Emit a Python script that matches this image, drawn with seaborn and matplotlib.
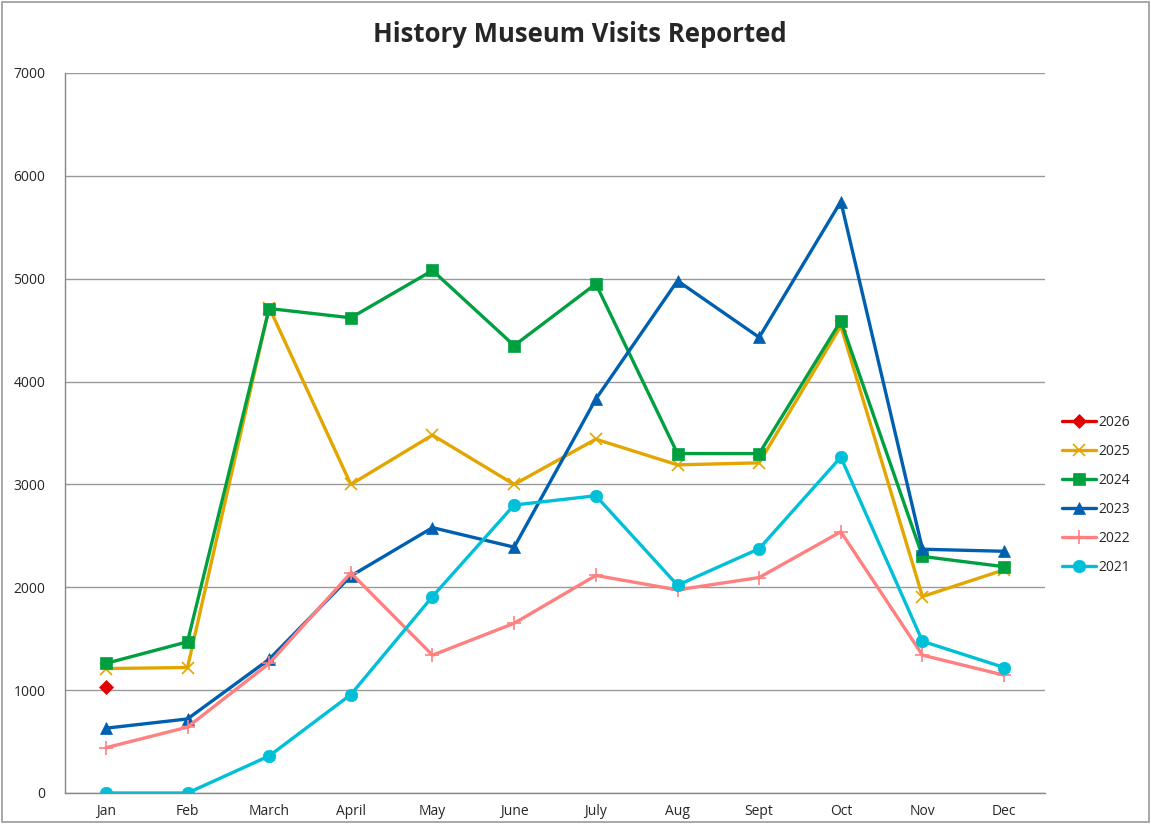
import pandas as pd
import matplotlib
matplotlib.use("Agg")
import matplotlib.pyplot as plt
import seaborn as sns
from matplotlib.patches import Rectangle

# Dane
months = ["Jan", "Feb", "March", "April", "May", "June", "July", "Aug", "Sept", "Oct", "Nov", "Dec"]
v2026 = [1030]
v2025 = [1210, 1220, 4720, 3000, 3480, 3000, 3440, 3190, 3210, 4540, 1910, 2170]
v2024 = [1260, 1470, 4710, 4620, 5080, 4350, 4950, 3300, 3300, 4590, 2300, 2200]
v2023 = [630, 720, 1300, 2110, 2580, 2390, 3830, 4980, 4430, 5750, 2370, 2350]
v2022 = [440, 640, 1260, 2140, 1340, 1650, 2115, 1975, 2095, 2540, 1340, 1145]
v2021 = [0, 0, 360, 957, 1910, 2800, 2890, 2020, 2375, 3265, 1475, 1220]

series = [
    ("2026", v2026, "#E00000", "D", 7),
    ("2025", v2025, "#E3A600", "x", 9),
    ("2024", v2024, "#00A040", "s", 9),
    ("2023", v2023, "#0060B0", "^", 9),
    ("2022", v2022, "#FF8080", "+", 10),
    ("2021", v2021, "#00C0D8", "o", 9),
]

sns.set_style("white")
plt.rcParams['font.family'] = ['Open Sans', 'DejaVu Sans']

fig = plt.figure(figsize=(11.51, 8.24), dpi=100)
ax = fig.add_axes([65 / 1151, 31 / 824, 980 / 1151, 720 / 824])

for name, vals, color, marker, ms in series:
    df = pd.DataFrame({"m": range(len(vals)), "v": vals})
    sns.lineplot(data=df, x="m", y="v", ax=ax, color=color, marker=marker,
                 markersize=ms, linewidth=2.4, markeredgecolor=color,
                 markeredgewidth=1.2 if marker in "x+" else 0.5, label=name)

ax.set_xlim(-0.5, 11.5)
ax.set_ylim(0, 7000)
ax.set_yticks(range(0, 7001, 1000))
ax.set_xticks(range(12))
ax.set_xticklabels(months)
ax.set_xticks([i + 0.5 for i in range(-1, 12)], minor=True)
ax.tick_params(axis="x", which="major", length=0, labelsize=10, pad=8)
ax.tick_params(axis="x", which="minor", length=6, color="#888888", width=1)
ax.tick_params(axis="y", length=6, color="#888888", labelsize=10, pad=8)
ax.yaxis.grid(True, color="#999999", linewidth=1)
ax.xaxis.grid(False)
for s in ["top", "right"]:
    ax.spines[s].set_visible(False)
for s in ["left", "bottom"]:
    ax.spines[s].set_color("#888888")
    ax.spines[s].set_linewidth(1)
ax.set_xlabel("")
ax.set_ylabel("")

fig.text(580 / 1151, 1 - 35 / 824, "History Museum Visits Reported", ha="center", va="center",
         fontsize=18.5, fontweight="bold")

ax.legend(loc="center left", bbox_to_anchor=(1.005, 0.414), frameon=False, fontsize=10,
          handlelength=2.4, labelspacing=1.0, handletextpad=0.2)

fig.patches.append(Rectangle((0.002, 0.002), 0.996, 0.996, transform=fig.transFigure,
                             fill=False, edgecolor="#999999", linewidth=1.2))

fig.savefig("out.png", dpi=100)
